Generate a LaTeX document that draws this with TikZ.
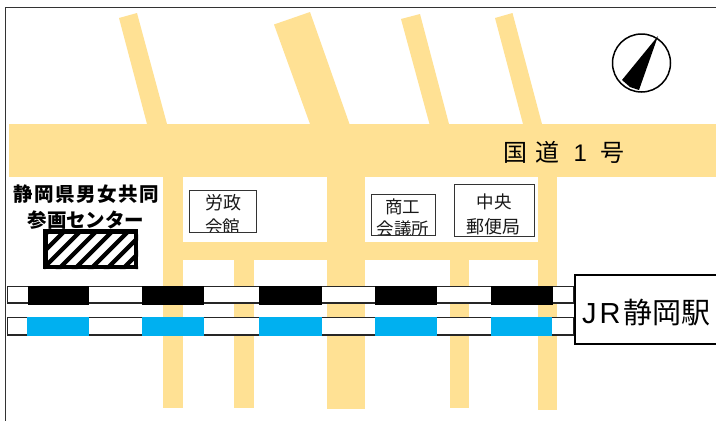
\documentclass[tikz,border=0pt]{standalone}
\usepackage{fontspec}
\setmainfont{Liberation Sans}
\newfontfamily\jpf{Noto Sans CJK JP}
\newfontfamily\jpfs[LetterSpace=8]{Noto Sans CJK JP}
\definecolor{roadc}{HTML}{FFE194}
\definecolor{bluec}{HTML}{00B0F0}
\tikzset{
  road/.style={fill=roadc,draw=none},
  railline/.style={draw=black!85,line width=1.3pt,fill=white},
  blackcar/.style={fill=black,draw=none},
  bluecar/.style={fill=bluec,draw=none},
  bldg/.style={draw=black!80,line width=0.9pt,fill=none},
  lbl/.style={inner sep=0pt,font=\jpf\fontsize{18}{20}\selectfont,text=black!90},
  lblsm/.style={inner sep=0pt,font=\jpf\fontsize{17.5}{19}\selectfont,text=black!90},
}
\begin{document}
\begin{tikzpicture}[x=1pt,y=-1pt]
\useasboundingbox (0,0) rectangle (716,421);
\fill[white] (0,0) rectangle (716,421);
% frame
\draw[black!80,line width=1.3pt] (5.5,421) -- (5.5,7.5) -- (716,7.5);
% roads
\fill[road] (9,124) rectangle (716,177);
\fill[road] (119,18) -- (137,13) -- (167,124) -- (147,124) -- cycle;
\fill[road] (274,24.5) -- (310,12) -- (349.5,124) -- (310,124) -- cycle;
\fill[road] (401,19) -- (420,14) -- (449,124) -- (429.5,124) -- cycle;
\fill[road] (495,18) -- (512.5,13) -- (542,124) -- (523,124) -- cycle;
\fill[road] (163,242) rectangle (557,260);
\fill[road] (163,177) rectangle (183,408);
\fill[road] (234,260) rectangle (254,408);
\fill[road] (327,177) rectangle (365,409);
\fill[road] (450,260) rectangle (469,408);
\fill[road] (538,177) rectangle (557,410);
% tracks
\draw[railline] (7.5,286.5) rectangle (574,303);
\draw[railline] (7.5,317.5) rectangle (574,335);
\foreach \a/\b in {28/89,142/204,259/322,375/437,491/553}
  \fill[blackcar] (\a,286) rectangle (\b,304.5);
\foreach \a/\b in {27/89,142/203.5,259/322,374.5/437,490.5/552}
  \fill[bluecar] (\a,316.5) rectangle (\b,336);
% station
\node[draw=black,line width=1.6pt,fill=white,minimum width=150pt,minimum height=69pt,anchor=west,inner sep=0pt] (station) at (574,309.5) {};
\node[inner sep=0pt,anchor=west,font=\fontsize{29}{31}\selectfont] (stationlbl) at (582,312.5) {J\kern3pt R\kern2.5pt{\jpf 静岡駅}};
% route label
\node[inner sep=0pt,anchor=west,font=\jpf\fontsize{24}{26}\selectfont] (route) at (503.5,152) {国\hspace{8pt}道\hspace{14pt}{\fontspec{Liberation Sans}1}\hspace{13pt}号};
% compass
\node[draw=black,line width=1.5pt,circle,minimum size=58pt,inner sep=0pt] (compass) at (641.5,63) {};
\fill[black] (658,36) -- (622,80) -- (630,87) -- (639,90) -- cycle;
% centre title
\node[inner sep=0pt,font=\jpfs\bfseries\fontsize{19.5}{21}\selectfont] (ctitle1) at (86,194) {静岡県男女共同};
\node[inner sep=0pt,font=\jpf\bfseries\fontsize{19.5}{21}\selectfont] (ctitle2) at (86,220) {参画センター};
% hatched box
\begin{scope}
\clip (44,230) rectangle (138,269);
\fill[white] (44,230) rectangle (138,269);
\foreach \i in {-1,...,7}
  \fill[black] ({23.7+16*\i},269) -- ({29.7+16*\i},269) -- ({68.7+16*\i},230) -- ({62.7+16*\i},230) -- cycle;
\end{scope}
\node[draw=black,line width=4.5pt,minimum width=90.5pt,minimum height=35.5pt,inner sep=0pt] (centre) at (90.8,249.3) {};
% buildings
\begin{scope}
\clip (189,190) rectangle (256,232);
\node[lbl] (a1) at (223,203) {労政};
\node[lblsm] (a2) at (222.5,226.5) {会館};
\end{scope}
\node[bldg,minimum width=67pt,minimum height=42pt,inner sep=0pt] (boxa) at (222.5,211) {};
\node[lblsm] (b1) at (402.5,207) {商工};
\begin{scope}
\clip (371,194) rectangle (435.5,235.5);
\node[lblsm] (b2) at (403,228.5) {会議所};
\end{scope}
\node[bldg,minimum width=64.5pt,minimum height=41.5pt,inner sep=0pt] (boxb) at (403.2,214.7) {};
\node[lblsm] (c1) at (494,202) {中央};
\node[lbl] (c2) at (493.5,226.5) {郵便局};
\node[bldg,minimum width=80pt,minimum height=52pt,inner sep=0pt] (boxc) at (494,210) {};
\end{tikzpicture}
\end{document}
